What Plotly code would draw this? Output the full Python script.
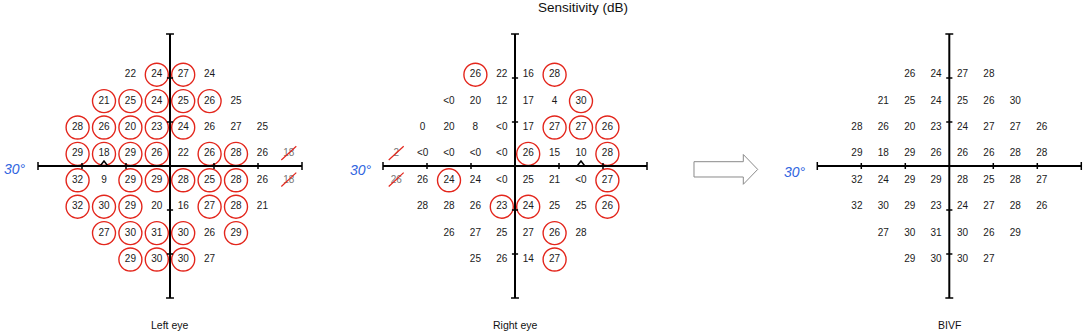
import plotly.graph_objects as go

# ---------------- data ----------------
COLS = [-27, -21, -15, -9, -3, 3, 9, 15, 21, 27]   # degrees
ROWS = [21, 15, 9, 3, -3, -9, -15, -21]            # degrees

# values (None = no test point); flags: c = circled, x = struck out, . = plain
LEFT_VALUES = [
    [None, None, None, "22", "24", "27", "24", None, None, None],
    [None, None, "21", "25", "24", "25", "26", "25", None, None],
    [None, "28", "26", "20", "23", "24", "26", "27", "25", None],
    [None, "29", "18", "29", "26", "22", "26", "28", "26", "18"],
    [None, "32", "9", "29", "29", "28", "25", "28", "26", "18"],
    [None, "32", "30", "29", "20", "16", "27", "28", "21", None],
    [None, None, "27", "30", "31", "30", "26", "29", None, None],
    [None, None, None, "29", "30", "30", "27", None, None, None],
]
LEFT_FLAGS = [
    "....cc....",
    "..ccccc...",
    ".ccccc....",
    ".cccc.cc.x",
    ".c.ccccc.x",
    ".ccc..cc..",
    "..cccc.c..",
    "...ccc....",
]

RIGHT_VALUES = [
    [None, None, None, "26", "22", "16", "28", None, None, None],
    [None, None, "<0", "20", "12", "17", "4", "30", None, None],
    [None, "0", "20", "8", "<0", "17", "27", "27", "26", None],
    ["2", "<0", "<0", "<0", "<0", "26", "15", "10", "28", None],
    ["26", "26", "24", "24", "<0", "25", "21", "<0", "27", None],
    [None, "28", "28", "26", "23", "24", "25", "25", "26", None],
    [None, None, "26", "27", "25", "27", "26", "28", None, None],
    [None, None, None, "25", "26", "14", "27", None, None, None],
]
RIGHT_FLAGS = [
    "...c..c...",
    ".......c..",
    "......ccc.",
    "x....c..c.",
    "x.c.....c.",
    "....cc..c.",
    "......c...",
    "......c...",
]

BIVF_VALUES = [
    [None, None, None, "26", "24", "27", "28", None, None, None],
    [None, None, "21", "25", "24", "25", "26", "30", None, None],
    [None, "28", "26", "20", "23", "24", "27", "27", "26", None],
    [None, "29", "18", "29", "26", "26", "26", "28", "28", None],
    [None, "32", "24", "29", "29", "28", "25", "28", "27", None],
    [None, "32", "30", "29", "23", "24", "27", "28", "26", None],
    [None, None, "27", "30", "31", "30", "26", "29", None, None],
    [None, None, None, "29", "30", "30", "27", None, None, None],
]
BIVF_FLAGS = ["." * 10] * 8

BLIND_SPOT_X = {"left": -15, "right": 15}
PANEL_TITLES = ["Left eye", "Right eye", "BIVF"]
TITLE = "Sensitivity (dB)"
AXIS_LIMIT = 30
TICKS = [-20, -10, 10, 20]

# ---------------- geometry ----------------
W, H = 1084, 332
S = 4.4                      # px per degree
CY = 166.0                   # px from top of horizontal axis
CENTERS = [170.0, 515.0, 949.3]
FONT = "Liberation Sans, Arial, sans-serif"
RED = "#e3261c"
Y_SHIFT = -0.25


def px(x):
    return x / W


def py(y):
    return 1 - y / H


fig = go.Figure()
panels = [(LEFT_VALUES, LEFT_FLAGS, "left"), (RIGHT_VALUES, RIGHT_FLAGS, "right"), (BIVF_VALUES, BIVF_FLAGS, None)]

for i, ((vals, flags, eye), cx) in enumerate(zip(panels, CENTERS)):
    n = "" if i == 0 else str(i + 1)
    xr, yr = "x" + n, "y" + n
    lo = -33
    hi = min(33, (W - cx) / S)
    xdom = [max(0, (cx + lo * S) / W), min(1, (cx + hi * S) / W)]
    ydom = [(H - (CY + 33 * S)) / H, (H - (CY - 33 * S)) / H]
    ax = dict(visible=False, range=[lo, hi], domain=xdom, fixedrange=True)
    ay = dict(visible=False, range=[-33, 33], domain=ydom, fixedrange=True)
    fig.layout["xaxis" + n] = dict(ax, anchor=yr)
    fig.layout["yaxis" + n] = dict(ay, anchor=xr)

    px_, py_, pt = [], [], []
    sx, sy, st = [], [], []
    cx_, cy_ = [], []
    lx, ly = [], []
    for r, yv in enumerate(ROWS):
        for c, xv in enumerate(COLS):
            v = vals[r][c]
            if v is None:
                continue
            f = flags[r][c]
            yy = yv + Y_SHIFT
            if f == "x":
                sx.append(xv); sy.append(yy); st.append(v)
                lx += [xv - 1.7, xv + 1.7, None]
                ly += [yy - 1.4, yy + 1.75, None]
            else:
                px_.append(xv); py_.append(yy); pt.append(v)
            if f == "c":
                cx_.append(xv); cy_.append(yy)

    # cross axes with ticks
    line = dict(color="black", width=2)
    fig.add_shape(type="line", xref=xr, yref=yr, x0=-AXIS_LIMIT, x1=AXIS_LIMIT, y0=0, y1=0, line=line)
    fig.add_shape(type="line", xref=xr, yref=yr, x0=0, x1=0, y0=-AXIS_LIMIT, y1=AXIS_LIMIT, line=line)
    for t in TICKS:
        fig.add_shape(type="line", xref=xr, yref=yr, x0=t, x1=t, y0=-0.7, y1=0.7, line=dict(color="black", width=1.5))
        fig.add_shape(type="line", xref=xr, yref=yr, x0=-0.7, x1=0.7, y0=t, y1=t, line=dict(color="black", width=1.5))
    for t in (-AXIS_LIMIT, AXIS_LIMIT):
        fig.add_shape(type="line", xref=xr, yref=yr, x0=t, x1=t, y0=-0.9, y1=0.9, line=dict(color="black", width=1.5))
        fig.add_shape(type="line", xref=xr, yref=yr, x0=-0.9, x1=0.9, y0=t, y1=t, line=dict(color="black", width=1.5))

    fig.add_trace(go.Scatter(x=cx_, y=cy_, mode="markers", xaxis=xr, yaxis=yr,
                             marker=dict(symbol="circle-open", size=23, color=RED, line=dict(width=1.4, color=RED)),
                             hoverinfo="skip", showlegend=False))
    fig.add_trace(go.Scatter(x=px_, y=py_, text=pt, mode="text", xaxis=xr, yaxis=yr,
                             textfont=dict(family=FONT, size=10, color="#1a1a1a"),
                             hoverinfo="skip", showlegend=False))
    if st:
        fig.add_trace(go.Scatter(x=sx, y=sy, text=st, mode="text", xaxis=xr, yaxis=yr,
                                 textfont=dict(family=FONT, size=10, color="#777777"),
                                 hoverinfo="skip", showlegend=False))
        fig.add_trace(go.Scatter(x=lx, y=ly, mode="lines", xaxis=xr, yaxis=yr,
                                 line=dict(color=RED, width=1.2),
                                 hoverinfo="skip", showlegend=False))
    if eye:
        fig.add_trace(go.Scatter(x=[BLIND_SPOT_X[eye]], y=[0.35], mode="markers", xaxis=xr, yaxis=yr,
                                 marker=dict(symbol="triangle-up-open", size=7, color="black",
                                             line=dict(width=1.5, color="black")),
                                 hoverinfo="skip", showlegend=False))

    # panel label
    fig.add_annotation(x=px(cx), y=py(325), xref="paper", yref="paper", text=PANEL_TITLES[i],
                       showarrow=False, font=dict(family=FONT, size=10.5, color="#111"),
                       xanchor="center", yanchor="middle")

# 30° labels
for xpix, ypix in [(15, 169), (361, 170), (795, 172)]:
    fig.add_annotation(x=px(xpix), y=py(ypix), xref="paper", yref="paper", text="<i>30°</i>",
                       showarrow=False, font=dict(family=FONT, size=14, color="#2f64e0"),
                       xanchor="center", yanchor="middle")

# title
fig.add_annotation(x=px(583), y=py(7.5), xref="paper", yref="paper", text=TITLE, showarrow=False,
                   font=dict(family=FONT, size=13.5, color="#111"), xanchor="center", yanchor="middle")

# hollow arrow between panels
pts = [(694, 161.7), (743.3, 161.7), (743.3, 154.5), (757.7, 169.4), (743.3, 184.3), (743.3, 177), (694, 177)]
path = "M " + " L ".join(f"{px(a):.5f},{py(b):.5f}" for a, b in pts) + " Z"
fig.add_shape(type="path", xref="paper", yref="paper", path=path,
              line=dict(color="#8a8a8a", width=1), fillcolor="white")

fig.update_layout(width=W, height=H, margin=dict(l=0, r=0, t=0, b=0),
                  paper_bgcolor="white", plot_bgcolor="rgba(0,0,0,0)", hovermode=False)

fig.write_html("out.html", config={"displayModeBar": False},
               post_script="document.body.style.margin='0';document.body.style.overflow='hidden';")
